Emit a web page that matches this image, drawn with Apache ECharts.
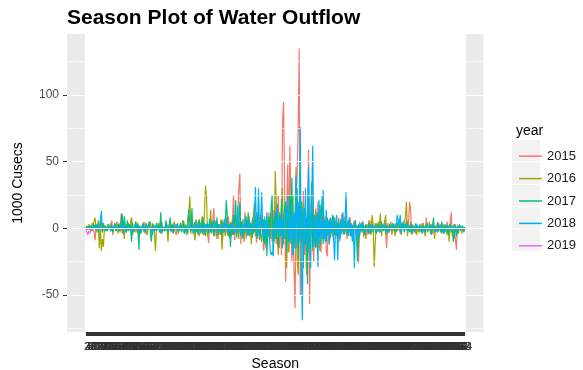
<!DOCTYPE html>
<html>
<head>
<meta charset="utf-8">
<script src="https://cdn.jsdelivr.net/npm/echarts@6/dist/echarts.min.js"></script>
<style>
  html, body { margin: 0; padding: 0; background: #fff; }
  #chart { width: 583px; height: 370px; }
</style>
</head>
<body>
<div id="chart"></div>
<script>
// x axis: day of season, padded both ends like ggplot's 5% expansion
const PAD = 18;
const days = [];
for (let d = 1; d <= 365; d++) days.push(String(d));

const years = ['2015', '2016', '2017', '2018', '2019'];
const colors = ['#F8766D', '#A3A500', '#00BF7D', '#00B0F6', '#E76BF3'];

const yLabels = [-50, 0, 50, 100];
const majorBreaks = [-50, 0, 50, 100];
const minorBreaks = [-75, -25, 25, 75, 125];

// daily change, 1000 cusecs
const v2015 = [
  0,1,-1,2,0,-2,1,0,-3,-9, 2,1,0,-1,3,0,-2,1,0,2,
  -1,0,2,1,-2,6,-5,1,0,3, -2,1,4,-3,11,-4,2,0,-1,3,
  1,-2,0,3,8,-5,1,2,-3,0, 4,-2,1,0,-1,2,5,-4,0,1,
  -1,2,0,-3,4,1,-2,0,3,-1, 2,0,-4,5,1,-2,0,3,-2,1,
  0,2,-3,1,4,-1,0,-5,2,1, -2,3,0,-1,6,-3,1,0,2,-1,
  3,-2,5,0,-4,2,7,-3,1,-6, 4,0,-2,8,-5,3,1,-4,-11,6,
  2,-3,5,15,-6,1,4,-8,3,0, 6,-14,2,7,-3,1,-5,9,-2,4,
  -6,8,25,-9,3,-4,10,30,41,-12, 5,-7,2,12,-8,4,-3,9,-5,1,
  6,-4,10,3,-11,5,8,-6,2,9, -5,-17,4,-15,7,-3,12,-8,5,-10,
  14,-6,20,-12,8,25,-15,10,-20,80, 95,30,-40,15,48,-18,62,22,-25,12,
  -30,-60,18,40,74,135,-51,20,-10,28, -20,15,-35,10,59,-57,5,33,-12,-25,
  8,15,-14,20,-8,6,-18,12,-5,3, 9,-17,-21,4,-12,7,-3,10,-9,5,
  -6,4,-2,8,-10,3,11,12,-4,9, 2,-8,5,-3,8,-6,3,-2,6,-4,
  2,-8,-26,5,-3,1,4,-7,2,0, 3,-5,1,6,-4,2,-2,0,4,-3,
  1,3,-2,5,-4,2,0,6,-3,-15, 4,1,-2,3,-5,2,0,-1,4,-2,
  1,3,-4,2,0,5,-3,2,7,-2, 4,20,14,-5,3,-2,1,-4,2,0,
  -3,2,1,-2,4,0,-5,8,-3,1, 2,-1,3,-4,0,2,-3,1,5,-2,
  0,3,-2,1,-4,2,0,5,-3,1, 4,12,-6,2,-3,-8,-16,3,-1,2,
  0,-4,1,-2,0
];
const v2016 = [
  0,2,-1,3,1,-2,4,2,5,8, -3,2,6,-15,3,-17,-8,-14,2,1,
  -2,3,1,-1,4,0,-3,2,1,-2, 5,-4,3,1,-2,6,2,-8,3,1,
  -1,4,0,2,8,-3,1,-2,5,0, -4,2,3,-1,0,4,-3,1,2,-5,
  2,0,5,-2,1,3,-4,-17,2,0, 4,-1,6,-3,1,2,-2,4,1,-10,
  3,-1,2,0,-3,5,1,-2,4,-4, 2,0,-3,6,1,-2,3,-5,8,12,
  24,-4,6,2,-3,-9,5,1,-2,7, -4,3,9,-5,12,32,24,-6,3,-2,
  14,-4,5,2,-3,6,-8,3,1,-5, 7,-16,4,2,-6,8,-3,1,-7,5,
  -2,6,-5,3,9,-4,2,-8,6,1, -3,7,-10,4,2,-6,8,-4,3,-12,
  5,10,19,-6,3,-8,12,4,-5,-10, 6,-3,9,-12,4,-6,8,2,12,-8,
  6,-10,43,18,-8,-20,12,-6,15,30, -12,8,20,-30,14,-18,22,-10,8,25,
  -15,12,46,-24,-35,10,18,-12,5,20, -8,12,-30,6,-18,10,-6,15,-17,8,
  -5,12,-8,4,-10,-17,6,-3,9,-6, 2,-8,5,-2,7,-4,1,-6,3,8,
  -3,5,-7,2,4,-5,1,-2,6,-4, 3,0,-6,2,5,-3,1,-5,4,-2,
  2,-6,-14,4,-3,1,5,-4,2,-8, 3,-2,6,1,-5,10,3,-29,-12,4,
  -3,5,2,11,-6,3,-2,4,10,-5, 2,-3,1,5,-4,0,2,-6,3,-1,
  4,-2,1,-5,3,0,6,8,20,-6, 2,-3,5,-1,-4,2,0,3,-5,1,
  2,-3,0,4,-2,1,-6,3,0,-2, 5,-4,1,-1,3,-8,2,0,-3,4,
  -1,2,-4,0,3,-2,1,-5,2,-10, 4,-3,2,0,-8,3,-2,1,-4,2,
  0,-3,1,-2,0
];
const v2017 = [
  0,1,0,-1,2,0,-2,1,3,-1, 2,0,-3,1,2,6,-3,4,0,-2,
  1,-2,3,0,-1,2,-3,1,4,-2, 0,3,-1,2,5,11,-4,9,2,-3,
  6,-2,3,1,-10,4,-3,2,5,-1, 3,-16,2,-4,1,3,-2,0,4,-1,
  2,5,-3,-10,1,3,-2,0,4,-1, 2,-3,12,-4,1,2,-2,6,0,-3,
  1,8,-2,3,-4,0,2,-1,3,-3, 1,4,-2,0,5,-3,2,1,-4,14,
  3,-2,15,-4,2,5,-3,1,-5,6, 2,-3,8,-2,4,-6,3,1,-4,7,
  -3,5,2,-6,4,-2,8,-4,3,1, -5,6,-3,4,2,21,8,-6,3,-14,
  4,-5,10,3,21,-7,6,2,20,-4, 5,-8,3,-2,9,-5,12,-6,4,2,
  -7,8,-3,5,12,-6,4,-9,10,3, -5,7,-12,6,-21,4,9,-8,15,25,
  -21,6,12,-8,18,-14,10,-6,22,-12, 8,15,20,-18,12,-10,25,8,38,-20,
  10,-15,18,30,-22,12,-8,20,5,-30, 15,-12,8,-42,22,-10,6,35,-14,10,
  -6,-15,12,5,-8,18,4,24,-12,6, 3,-10,8,-4,6,-7,3,-2,9,-5,
  2,-6,4,1,-3,7,-2,3,-5,5, 2,-4,6,-1,3,-6,2,-3,5,1,
  -4,-25,3,-6,2,4,-3,1,-5,3, 2,-2,4,-4,1,3,-3,0,2,-4,
  3,-1,2,-3,5,0,-2,4,-4,2, 1,-3,3,-1,0,4,-2,2,-3,1,
  5,2,-2,4,1,5,-3,3,0,5, -2,1,3,-4,2,0,-3,4,-1,2,
  -2,3,0,-4,2,1,-3,2,4,-2, 0,3,-5,2,8,-3,1,-2,4,-1,
  2,-3,1,0,-4,3,-1,2,-5,1, 3,-2,0,-10,-4,2,-6,1,-2,3,
  -1,0,2,-3,1
];
const v2018 = [
  0,0,1,0,-1,0,2,0,-1,1, 0,3,-2,0,1,13,-2,0,1,0,
  -1,0,2,0,-2,1,0,0,3,-1, 0,1,-2,0,4,0,-1,2,0,-3,
  0,1,0,-2,2,0,1,-1,0,3, 0,-2,1,0,-1,3,0,-3,1,0,
  2,0,-1,0,-5,1,0,2,-2,0, 1,0,-3,2,0,-1,1,0,3,-2,
  0,1,-2,0,2,0,-1,3,0,-2, 1,0,2,-1,0,-4,2,0,1,-1,
  0,3,-2,1,0,-3,2,0,5,-1, 0,2,-4,1,3,-2,0,4,-1,2,
  -3,1,0,6,-2,3,0,-5,2,1, -2,4,0,-3,8,-1,2,-4,0,3,
  -2,5,0,-4,3,1,17,-3,2,-6, 4,0,-2,8,-3,1,-5,6,0,-2,
  3,-4,10,31,-6,4,30,-8,5,27, -3,-10,6,-4,12,-7,2,-15,-20,-18,
  -20,5,-8,10,15,-6,8,-3,12,-15, 6,-8,14,4,25,-10,8,-12,18,-20,
  12,-8,40,-15,20,-10,76,-24,-69,15, -12,30,-18,10,46,-8,-30,20,62,-14,
  10,-6,8,-29,21,-12,6,-8,29,-4, -10,14,-6,5,-12,8,-3,10,-8,-24,
  4,10,-24,6,-8,3,-4,12,-2,5, 27,-3,-5,8,-6,4,-10,2,-30,6,
  -4,2,-8,0,3,-2,5,0,-3,1, 2,0,-4,1,0,3,-1,0,2,-2,
  0,1,-3,0,2,-1,0,4,-2,0, 1,-3,0,2,0,-1,3,0,-2,10,
  11,3,10,-4,2,0,-1,3,0,-2, 1,0,-3,2,0,1,-2,0,3,-1,
  0,2,-1,0,-3,1,0,2,0,-2, 1,0,-1,3,0,-2,0,1,-3,0,
  2,0,5,-1,0,-3,1,0,2,-2, 0,1,-1,0,3,-2,0,-4,1,0,
  2,0,-1,0,-2
];
const v2019 = [0,-3,-5,-2,-4,-1,-2,0];

const values = [v2015, v2016, v2017, v2018, v2019];

const padNames = [];
for (let i = 0; i < PAD; i++) padNames.push('pad' + i);
const categories = padNames.map(p => p + 'a').concat(days, padNames.map(p => p + 'b'));
const isDay = (i) => i >= PAD && i < PAD + days.length;

const pad = (arr) => new Array(PAD).fill('-').concat(arr);

const chart = echarts.init(document.getElementById('chart'));

const series = years.map((y, i) => ({
  name: y,
  type: 'line',
  data: pad(values[i]),
  showSymbol: false,
  symbol: 'none',
  z: 2,
  lineStyle: { color: colors[i], width: 1.2 },
  itemStyle: { color: colors[i] }
}));

// horizontal panel grid lines
series.unshift({
  name: 'grid',
  type: 'line',
  data: [],
  z: 1,
  silent: true,
  markLine: {
    silent: true,
    symbol: 'none',
    label: { show: false },
    data: majorBreaks.map(v => ({ yAxis: v, lineStyle: { color: '#fff', width: 1.2, type: 'solid' } }))
      .concat(minorBreaks.map(v => ({ yAxis: v, lineStyle: { color: '#fff', width: 0.6, type: 'solid' } })))
  }
});

const option = {
  animation: false,
  textStyle: { fontFamily: 'Liberation Sans, Arial, sans-serif' },
  title: [
    {
      text: 'Season Plot of Water Outflow',
      left: 67, top: 8, padding: 0,
      textStyle: { fontSize: 21, fontWeight: 'bold', color: '#000' }
    },
    {
      text: 'year',
      left: 511, top: 119,
      textStyle: { fontSize: 14, fontWeight: 'normal', color: '#000' }
    }
  ],
  color: colors,
  legend: {
    data: years,
    orient: 'vertical',
    left: 514, top: 140,
    icon: 'rect',
    itemWidth: 23, itemHeight: 1.5,
    itemGap: 0,
    itemTextGap: 13,
    textStyle: { fontSize: 13, color: '#1A1A1A', lineHeight: 22.4 }
  },
  graphic: years.map((y, i) => ({
    type: 'rect',
    z: -1,
    shape: { x: 512, y: 140 + i * 22.4, width: 28, height: 21.4 },
    style: { fill: '#F2F2F2' }
  })),
  grid: {
    left: 67, right: 99.5, top: 34, bottom: 38,
    containLabel: false,
    outerBoundsMode: 'none',
    show: true, backgroundColor: '#EBEBEB', borderWidth: 0
  },
  xAxis: {
    type: 'category',
    data: categories,
    boundaryGap: false,
    name: 'Season',
    nameLocation: 'middle',
    nameGap: 21,
    nameTextStyle: { fontSize: 14, color: '#000' },
    axisLine: { show: false, onZero: false },
    axisTick: { show: true, interval: (i) => isDay(i), length: 4, lineStyle: { color: '#333', width: 2.2 } },
    axisLabel: { interval: (i) => isDay(i), fontSize: 10, color: '#333', margin: 10 },
    splitLine: { show: true, interval: (i) => isDay(i), lineStyle: { color: '#fff', width: 2 } }
  },
  yAxis: {
    type: 'value',
    min: -77.8, max: 145.8,
    name: '1000 Cusecs',
    nameLocation: 'middle',
    nameGap: 42,
    nameTextStyle: { fontSize: 14, color: '#000' },
    axisLine: { show: false },
    axisTick: { show: true, length: 4, customValues: yLabels, lineStyle: { color: '#333' } },
    axisLabel: { customValues: yLabels, fontSize: 12, color: '#4D4D4D', margin: 8 },
    splitLine: { show: false }
  },
  series: series
};

chart.setOption(option);
</script>
</body>
</html>
